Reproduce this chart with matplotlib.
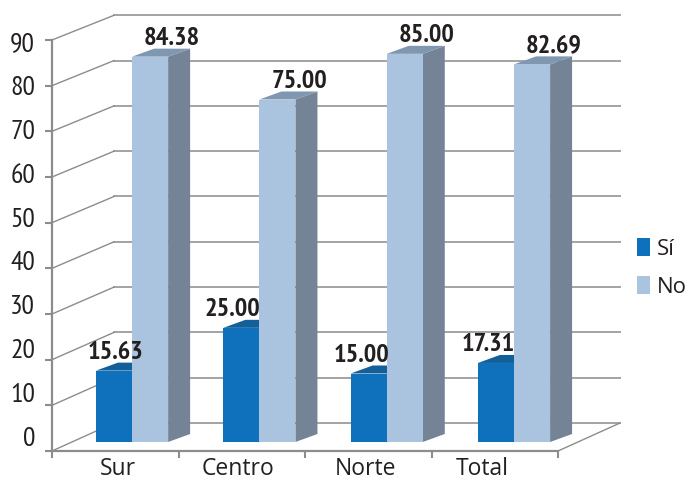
import matplotlib
matplotlib.use('Agg')
import matplotlib.pyplot as plt
from matplotlib.patches import Polygon, Patch

categories = ['Sur', 'Centro', 'Norte', 'Total']
si_values = [15.63, 25.00, 15.00, 17.31]
no_values = [84.38, 75.00, 85.00, 82.69]
y_ticks = [0, 10, 20, 30, 40, 50, 60, 70, 80, 90]

narrow = ['PT Sans Narrow', 'Liberation Sans', 'DejaVu Sans']
grid_col = '#a3a3a3'
axis_col = '#8c8c8c'
text_col = '#231f20'

# depth of the 3d box, in data units
wall_dx = 62 / 126.5
wall_dy = 28 / 4.567
bar_dx = 22 / 126.5
bar_dy = 8 / 4.567
bar_w = 0.285
step = 1.0065
# bars stand 9px above the front edge of the floor
lift = 9 / 4.567
# label offsets from the left of the group, px
si_label_px = [20, 9, 11, 10]
no_label_px = 76
label_rise = 12 / 4.567


def wall_y(v):
    return wall_dy + v * 0.992


def bar(x, v, front, top, side):
    y1 = v + lift
    x1 = x + bar_w
    ax.add_patch(Polygon([(x1, lift), (x1 + bar_dx, lift + bar_dy), (x1 + bar_dx, y1 + bar_dy), (x1, y1)],
                         fc=side, ec='none', clip_on=False, zorder=3))
    ax.add_patch(Polygon([(x, y1), (x + bar_dx, y1 + bar_dy), (x1 + bar_dx, y1 + bar_dy), (x1, y1)],
                         fc=top, ec='none', clip_on=False, zorder=3))
    ax.add_patch(Polygon([(x, lift), (x1, lift), (x1, y1), (x, y1)], fc=front, ec='none', clip_on=False, zorder=3))


fig = plt.figure(figsize=(6.9, 4.8), dpi=100)
ax = fig.add_axes([52 / 690, 29 / 480, 506 / 690, 411 / 480])
ax.set_xlim(0, 4)
ax.set_ylim(0, 90)
ax.patch.set_visible(False)
for s in ['top', 'right']:
    ax.spines[s].set_visible(False)
for s in ['left', 'bottom']:
    ax.spines[s].set_color(axis_col)
    ax.spines[s].set_linewidth(1.6)

# back wall and floor
for v in y_ticks:
    ax.plot([wall_dx, 4 + wall_dx], [wall_y(v), wall_y(v)], color=grid_col, lw=1.4, clip_on=False, zorder=1)
    ax.plot([0, wall_dx], [v, wall_y(v)], color=axis_col, lw=1, clip_on=False, zorder=1)
ax.plot([4, 4 + wall_dx], [0, wall_dy], color=axis_col, lw=1, clip_on=False, zorder=1)

ax.set_yticks(y_ticks)
ax.set_xticks(range(5))
ax.tick_params(axis='both', length=5, width=1.5, color=axis_col, labelleft=False, labelbottom=False)

for i, cat in enumerate(categories):
    x = i * step + 0.348
    bar(x, si_values[i], '#0f71bb', '#125f9a', '#125f9a')
    bar(x + bar_w, no_values[i], '#aac3de', '#7f97b0', '#748496')

    ax.text(x + si_label_px[i] / 126.5, si_values[i] + lift + label_rise, f'{si_values[i]:.2f}', ha='center',
            va='baseline', family=narrow, fontweight='bold', fontsize=19, color=text_col, zorder=5, clip_on=False)
    ax.text(x + no_label_px / 126.5, no_values[i] + lift + label_rise, f'{no_values[i]:.2f}', ha='center',
            va='baseline', family=narrow, fontweight='bold', fontsize=19, color=text_col, zorder=5, clip_on=False)

# tick labels sit off their ticks in the original
for v in y_ticks:
    ax.text(-0.134, 2.63 + v * 0.961, str(v), ha='right', va='center', family=narrow, fontsize=20,
            color=text_col, clip_on=False)

label_x = [0.522, 1.47, 2.48, 3.40]
for pos, cat in zip(label_x, categories):
    ax.text(pos, -4.0, cat, ha='center', va='center', family='Open Sans', fontsize=16.5, color=text_col,
            clip_on=False)

handles = [Patch(fc='#0f71bb', ec='none', label='Sí'), Patch(fc='#aac3de', ec='none', label='No')]
fig.legend(handles=handles, loc='center left', bbox_to_anchor=(637 / 690, 1 - 268 / 480), frameon=False,
           handlelength=0.6, handleheight=0.85, handletextpad=0.3, labelspacing=0.75, borderaxespad=0,
           borderpad=0, prop={'family': 'Open Sans', 'size': 16}, labelcolor=text_col)

fig.savefig('out.png', dpi=100)
